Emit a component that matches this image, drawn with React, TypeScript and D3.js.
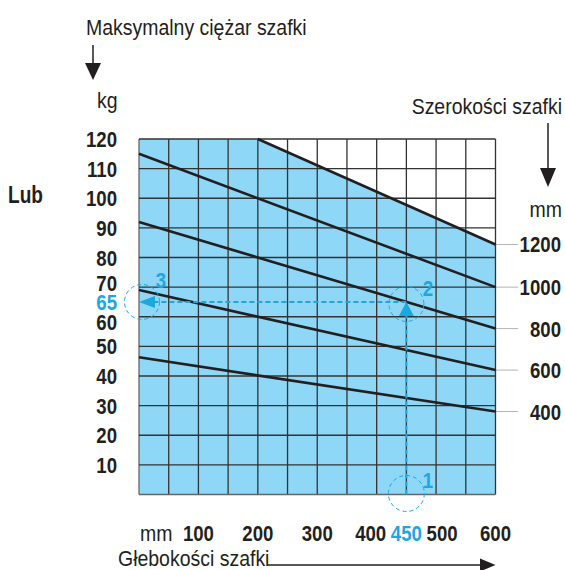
import React from "react";
import * as d3 from "d3";

// Depth axis (mm) and load axis (kg)
const depthTicks = [100, 200, 300, 400, 450, 500, 600];
const depthGrid = [0, 50, 100, 150, 200, 250, 300, 350, 400, 450, 500, 550, 600];
const kgTicks = [120, 110, 100, 90, 80, 70, 60, 50, 40, 30, 20, 10];
const kgGrid = [0, 10, 20, 30, 40, 50, 60, 70, 80, 90, 100, 110, 120];

// Cabinet width series (mm): straight lines from start to end
const widths = ["1200", "1000", "800", "600", "400"];
const depthAtStart = [200, 0, 0, 0, 0];
const kgAtStart = [120, 115, 92, 69, 46.3];
const kgAtEnd = [84.4, 70, 56, 42, 28];

// Worked example
const exampleDepth = 450;
const exampleKg = 65;

const FONT = "'Liberation Sans Narrow', 'Arial Narrow', 'Liberation Sans', Arial, sans-serif";
const INK = "#231f20";
const BLUE = "#1ca7e1";
const FILL = "#8ed7f6";

const SB = 0.81; // condense factor, bold
const SR = 0.885; // condense factor, regular

function T(props: {
  x: number;
  y: number;
  s?: number;
  anchor?: string;
  bold?: boolean;
  fill?: string;
  size?: number;
  children: React.ReactNode;
}) {
  const s = props.s ?? (props.bold ? SB : SR);
  const size = props.size ?? (props.bold ? 23 : 22);
  return (
    <text
      transform={`translate(${props.x},${props.y}) scale(${s},1)`}
      textAnchor={props.anchor || "start"}
      fontSize={size}
      fontWeight={props.bold ? "bold" : "normal"}
      fill={props.fill || INK}
    >
      {props.children}
    </text>
  );
}

export default function App() {
  const x = d3.scaleLinear().domain([0, 600]).range([139, 495.5]);
  const y = d3.scaleLinear().domain([0, 120]).range([494.5, 139]);

  const line = d3
    .line<[number, number]>()
    .x((d) => x(d[0]))
    .y((d) => y(d[1]));

  const topSeries: [number, number][] = [
    [0, 120],
    [depthAtStart[0], kgAtStart[0]],
    [600, kgAtEnd[0]],
  ];
  const area = d3
    .area<[number, number]>()
    .x((d) => x(d[0]))
    .y0(y(0))
    .y1((d) => y(d[1]));

  const xOffsets: Record<number, number> = { 400: -6, 500: 6, 600: 0 };
  const yOffsets: Record<number, number> = { 70: -4.5, 60: 5 };

  const ex = x(exampleDepth);
  const ey = y(exampleKg);

  return (
    <svg
      width={565}
      height={570}
      style={{ position: "absolute", left: 0, top: 0 }}
      fontFamily={FONT}
    >
      <rect width={565} height={570} fill="#fff" />
      {/* blue area under the 1200 line */}
      <path d={area(topSeries) || ""} fill={FILL} />

      {/* grid */}
      {depthGrid.map((d) => (
        <line
          key={"gx" + d}
          x1={x(d)}
          x2={x(d)}
          y1={y(0)}
          y2={y(120)}
          stroke={d === 0 ? "#666" : "#333"}
          strokeWidth={1.3}
        />
      ))}
      {kgGrid.map((k) => (
        <line
          key={"gy" + k}
          x1={x(0)}
          x2={x(600)}
          y1={y(k)}
          y2={y(k)}
          stroke={k === 0 ? "#666" : "#333"}
          strokeWidth={1.3}
        />
      ))}

      {/* series lines */}
      {widths.map((w, i) => (
        <path
          key={"s" + w}
          d={
            line([
              [depthAtStart[i], kgAtStart[i]],
              [600, kgAtEnd[i]],
            ]) || ""
          }
          stroke={INK}
          strokeWidth={2.6}
          fill="none"
        />
      ))}

      {/* right labels with dotted leaders */}
      {widths.map((w, i) => (
        <g key={"rl" + w}>
          <line
            x1={x(600) + 1}
            x2={518}
            y1={y(kgAtEnd[i])}
            y2={y(kgAtEnd[i])}
            stroke="#666"
            strokeWidth={1}
            strokeDasharray="1,1"
          />
          <T x={561} y={y(kgAtEnd[i]) + 8} anchor="end" bold>
            {w}
          </T>
        </g>
      ))}

      {/* y tick labels */}
      {kgTicks.map((k) => (
        <T key={"yt" + k} x={117} y={y(k) + 8 + (yOffsets[k] || 0)} anchor="end" bold>
          {k}
        </T>
      ))}
      <T x={117} y={ey + 8} anchor="end" bold fill={BLUE}>
        {exampleKg}
      </T>

      {/* x tick labels */}
      <T x={140} y={541}>
        mm
      </T>
      {depthTicks.map((d) => (
        <T
          key={"xt" + d}
          x={x(d) + (xOffsets[d] || 0)}
          y={541}
          anchor="middle"
          bold
          fill={d === exampleDepth ? BLUE : INK}
        >
          {d}
        </T>
      ))}

      {/* titles */}
      <T x={86} y={35}>
        Maksymalny ciężar szafki
      </T>
      <line x1={93} x2={93} y1={45} y2={66} stroke={INK} strokeWidth={1.5} />
      <path d="M85,63 L101,63 L93,80 Z" fill={INK} />
      <T x={97} y={108}>
        kg
      </T>

      <T x={562} y={114} anchor="end">
        Szerokości szafki
      </T>
      <line x1={548} x2={548} y1={123} y2={170} stroke={INK} strokeWidth={1.5} />
      <path d="M540,168 L556,168 L548,187 Z" fill={INK} />
      <T x={562} y={217} anchor="end">
        mm
      </T>

      <T x={8} y={203} bold s={0.83}>
        Lub
      </T>

      <T x={118} y={566}>
        Głebokości szafki
      </T>
      <line x1={268} x2={482} y1={565} y2={565} stroke={INK} strokeWidth={1.5} />
      <path d="M480,558.5 L480,571.5 L495.5,565 Z" fill={INK} />

      {/* worked example annotation */}
      <line
        x1={ex}
        x2={ex}
        y1={y(0)}
        y2={ey + 14}
        stroke={BLUE}
        strokeWidth={2}
        strokeDasharray="5,3"
      />
      <path d={`M${ex},${ey} L${ex - 7.5},${ey + 14} L${ex + 7.5},${ey + 14} Z`} fill={BLUE} />
      <line
        x1={ex}
        x2={x(0) + 15}
        y1={ey}
        y2={ey}
        stroke={BLUE}
        strokeWidth={2}
        strokeDasharray="5,3"
      />
      <path d={`M${x(0)},${ey} L${x(0) + 16},${ey - 6} L${x(0) + 16},${ey + 6} Z`} fill={BLUE} />

      <circle cx={ex} cy={y(0) - 1} r={18} fill="none" stroke={BLUE} strokeWidth={1} strokeDasharray="4,3" />
      <circle cx={ex} cy={ey + 2} r={17.5} fill="none" stroke={BLUE} strokeWidth={1} strokeDasharray="4,3" />
      <circle cx={x(0) + 3} cy={ey} r={17.5} fill="none" stroke={BLUE} strokeWidth={1} strokeDasharray="4,3" />

      <T x={428} y={488} anchor="middle" bold fill={BLUE}>
        1
      </T>
      <T x={428} y={296} anchor="middle" bold fill={BLUE}>
        2
      </T>
      <T x={161} y={288} anchor="middle" bold fill={BLUE}>
        3
      </T>
    </svg>
  );
}
